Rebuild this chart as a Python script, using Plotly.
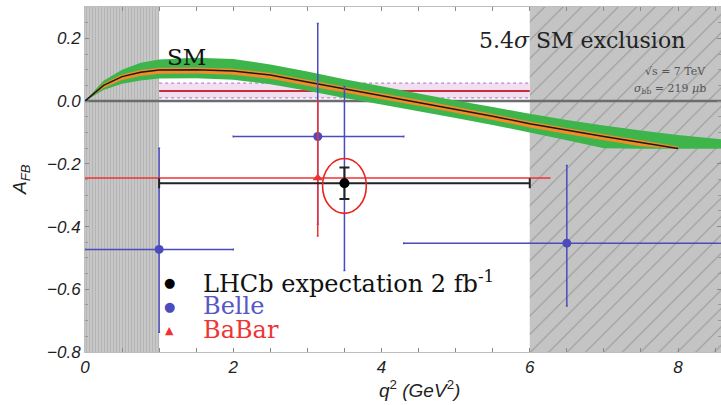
import plotly.graph_objects as go

# ---------------- data ----------------
x_min, x_max = 0.0, 8.58
y_min, y_max = -0.8, 0.3
x_ticks = [0, 2, 4, 6, 8]
x_ticklabels = ["0", "2", "4", "6", "8"]
y_ticks = [-0.8, -0.6, -0.4, -0.2, 0.0, 0.2]
y_ticklabels = ["\u22120.8", "\u22120.6", "\u22120.4", "\u22120.2", "0.0", "0.2"]

excluded_left = [0.0, 1.0]
excluded_right = [6.0, x_max]

# SM prediction bands
sm_x = [0, 0.25, 0.5, 0.75, 1.0, 1.5, 2.0, 2.5, 3.0, 3.5, 4.0, 4.5, 5.0, 5.5, 6.0, 6.5, 7.0, 7.5, 8.0, 8.58]
sm_green_hi = [0.0, 0.065, 0.100, 0.122, 0.133, 0.138, 0.134, 0.117, 0.094, 0.070, 0.047, 0.024, 0.002,
               -0.019, -0.040, -0.060, -0.078, -0.094, -0.108, -0.122]
sm_green_lo = [0.0, 0.035, 0.055, 0.066, 0.072, 0.073, 0.068, 0.054, 0.033, 0.010, -0.011, -0.032, -0.054,
               -0.076, -0.100, -0.125, -0.150, -0.152, -0.152, -0.152]
sm_c_x = [0, 0.25, 0.5, 0.75, 1.0, 1.5, 2.0, 2.5, 3.0, 3.5, 4.0, 4.5, 5.0, 5.5, 6.0, 6.5, 7.0, 7.5, 8.0]
sm_center = [0.0, 0.050, 0.078, 0.092, 0.099, 0.100, 0.096, 0.083, 0.061, 0.039, 0.018, -0.003, -0.025,
             -0.048, -0.072, -0.093, -0.113, -0.132, -0.151]
sm_orange_hi = [0.0, 0.056, 0.085, 0.099, 0.106, 0.107, 0.103, 0.090, 0.068, 0.046, 0.025, 0.004, -0.018,
                -0.041, -0.065, -0.086, -0.106, -0.125, -0.145]
sm_orange_lo = [0.0, 0.042, 0.067, 0.080, 0.087, 0.088, 0.084, 0.071, 0.049, 0.027, 0.006, -0.015, -0.037,
                -0.060, -0.084, -0.105, -0.125, -0.144, -0.153]

# horizontal band (1-6 GeV^2)
band_x = [1.0, 6.0]
band_mid = 0.032
band_lo = 0.010
band_hi = 0.057

# LHCb expectation
lhcb_x = [3.5]
lhcb_y = [-0.262]
lhcb_xerr = [2.5]
lhcb_yerr = [0.05]

# Belle
belle_x = [1.0, 3.14, 3.5, 6.5]
belle_y = [-0.473, -0.113, -0.26, -0.453]
belle_xerr_minus = [1.0, 1.14, 0.0, 2.2]
belle_xerr_plus = [1.0, 1.16, 0.0, 2.18]
belle_yerr_plus = [0.323, 0.36, 0.306, 0.248]
belle_yerr_minus = [0.264, 0.28, 0.28, 0.2]

# BaBar
babar_x = [3.14]
babar_y = [-0.245]
babar_xerr = [3.14]
babar_yerr_plus = [0.245]
babar_yerr_minus = [0.185]

# ---------------- helpers ----------------
L, R, T, B = 85, 0, 7, 53
W, H = 721, 405
PW, PH = W - L - R, H - T - B


def px(xp):
    return (xp - L) / PW


def py(yp):
    return (H - B - yp) / PH


BLUE = "#4b4bbe"
RED = "#f03232"
SERIF = "DejaVu Serif"
SANS = "Liberation Sans"

fig = go.Figure()

# excluded (hatched) regions
for (x0, x1), pat in [
    (excluded_left, dict(shape="|", size=3, solidity=0.3, fgcolor="#b3b3b3", bgcolor="#c7c7c7")),
    (excluded_right, dict(shape="/", size=13, solidity=0.08, fgcolor="#999999", bgcolor="#c4c4c4")),
]:
    fig.add_trace(go.Scatter(
        x=[x0, x1, x1, x0, x0], y=[y_min, y_min, y_max, y_max, y_min],
        fill="toself", mode="none", fillpattern=dict(fillmode="replace", **pat),
        hoverinfo="skip", showlegend=False))

# zero line
fig.add_trace(go.Scatter(x=[x_min, x_max], y=[0, 0], mode="lines",
                         line=dict(color="#6c6c6c", width=2.5), hoverinfo="skip", showlegend=False))

# pink band
fig.add_trace(go.Scatter(
    x=[band_x[0], band_x[1], band_x[1], band_x[0], band_x[0]],
    y=[band_lo, band_lo, band_hi, band_hi, band_lo],
    fill="toself", fillcolor="#f2e0f2", mode="none", hoverinfo="skip", showlegend=False))
for yv in (band_lo, band_hi):
    fig.add_trace(go.Scatter(x=band_x, y=[yv, yv], mode="lines",
                             line=dict(color="#b888c0", width=1.2, dash="dot"),
                             hoverinfo="skip", showlegend=False))
fig.add_trace(go.Scatter(x=band_x, y=[band_mid, band_mid], mode="lines",
                         line=dict(color="#cc2b3b", width=2), hoverinfo="skip", showlegend=False))

# SM bands
fig.add_trace(go.Scatter(x=sm_x + sm_x[::-1], y=sm_green_hi + sm_green_lo[::-1],
                         fill="toself", fillcolor="#3db54b", mode="none",
                         hoverinfo="skip", showlegend=False))
fig.add_trace(go.Scatter(x=sm_c_x + sm_c_x[::-1], y=sm_orange_hi + sm_orange_lo[::-1],
                         fill="toself", fillcolor="#f28c28", mode="none",
                         hoverinfo="skip", showlegend=False))
fig.add_trace(go.Scatter(x=sm_c_x, y=sm_center, mode="lines",
                         line=dict(color="#1a1a1a", width=1.5), hoverinfo="skip", showlegend=False))

# Belle
fig.add_trace(go.Scatter(
    x=belle_x, y=belle_y, mode="markers", name="Belle",
    marker=dict(color=BLUE, size=9, symbol="circle"),
    error_x=dict(type="data", symmetric=False, array=belle_xerr_plus, arrayminus=belle_xerr_minus,
                 color=BLUE, thickness=1.5, width=1),
    error_y=dict(type="data", symmetric=False, array=belle_yerr_plus, arrayminus=belle_yerr_minus,
                 color=BLUE, thickness=1.5, width=1),
    showlegend=False))

# BaBar
fig.add_trace(go.Scatter(
    x=babar_x, y=babar_y, mode="markers", name="BaBar",
    marker=dict(color=RED, size=9, symbol="triangle-up"),
    error_x=dict(type="data", array=babar_xerr, color=RED, thickness=1.5, width=0),
    error_y=dict(type="data", symmetric=False, array=babar_yerr_plus, arrayminus=babar_yerr_minus,
                 color=RED, thickness=1.5, width=1),
    showlegend=False))

# LHCb
fig.add_trace(go.Scatter(
    x=lhcb_x, y=lhcb_y, mode="markers", name="LHCb expectation 2 fb-1",
    marker=dict(color="black", size=10),
    error_x=dict(type="data", array=lhcb_xerr, color="#222222", thickness=2, width=5),
    error_y=dict(type="data", array=lhcb_yerr, color="#222222", thickness=2, width=5),
    showlegend=False))

# ellipse around LHCb point
fig.add_shape(type="circle", xref="x", yref="y",
              x0=lhcb_x[0] - 0.295, x1=lhcb_x[0] + 0.295,
              y0=lhcb_y[0] - 0.096, y1=lhcb_y[0] + 0.079,
              line=dict(color="#e8231f", width=1.6))


def text(t, xp, yp, size, color, family=SERIF, xanchor="center", **kw):
    return dict(text=t, x=px(xp), y=py(yp), xref="paper", yref="paper", showarrow=False,
                xanchor=xanchor, yanchor="middle", font=dict(family=family, size=size, color=color), **kw)


ann = []
ann.append(text("SM", 186, 57, 23, "#111"))
ann.append(text("5.4<i>\u03c3</i> SM exclusion", 477, 41, 22, "#222", xanchor="left"))
ann.append(text("\u221as = 7 TeV", 708, 72, 11, "#555", xanchor="right"))
ann.append(text("<i>\u03c3</i><sub>b\u0062\u0304</sub> = 219 <i>\u03bc</i>b", 708, 89, 11, "#555",
                xanchor="right"))

# legend (as text)
legend_items = [("\u25cf", "black", "LHCb expectation 2 fb<sup>-1</sup>", "#111", 282),
                ("\u25cf", BLUE, "Belle", "#5656c4", 306),
                ("\u25b2", RED, "BaBar", "#f03434", 330)]
for sym, scol, label, tcol, yc in legend_items:
    ann.append(text(sym, 169, yc, 13 if sym == "\u25cf" else 11, scol, family="DejaVu Sans"))
    ann.append(text(label, 201, yc, 24, tcol, xanchor="left"))

# axis titles
ann.append(text("<i>A</i><sub><i>FB</i></sub>", 21, 180, 19, "#222", family=SANS, textangle=-90))
ann.append(text("<i>q</i><sup>2</sup> <i>(GeV</i><sup>2</sup><i>)</i>", 419, 389, 19, "#222", family=SANS))

tickfont = dict(family=SANS, size=17, color="#1e1e1e", style="italic")
fig.update_layout(
    width=W, height=H, margin=dict(l=L, r=R, t=T, b=B, autoexpand=False),
    paper_bgcolor="white", plot_bgcolor="white", showlegend=False,
    annotations=ann,
    xaxis=dict(range=[x_min, x_max], tickvals=x_ticks, ticktext=x_ticklabels, ticks="inside",
               ticklen=4, tickcolor="#8a8a8a", showline=True, linecolor="#bdbdbd", linewidth=1,
               mirror="ticks", showgrid=False, zeroline=False, tickfont=tickfont, automargin=False,
               minor=dict(dtick=0.5, ticks="inside", ticklen=4, tickcolor="#8a8a8a")),
    yaxis=dict(range=[y_min, y_max], tickvals=y_ticks, ticktext=y_ticklabels, ticks="inside",
               ticklen=4, tickcolor="#8a8a8a", showline=True, linecolor="#bdbdbd", linewidth=1,
               mirror="ticks", showgrid=False, zeroline=False, tickfont=tickfont, automargin=False,
               minor=dict(dtick=0.05, ticks="inside", ticklen=3, tickcolor="#9a9a9a")),
)

fig.write_html("out.html", config={"displayModeBar": False},
               post_script="document.body.style.margin='0';")
